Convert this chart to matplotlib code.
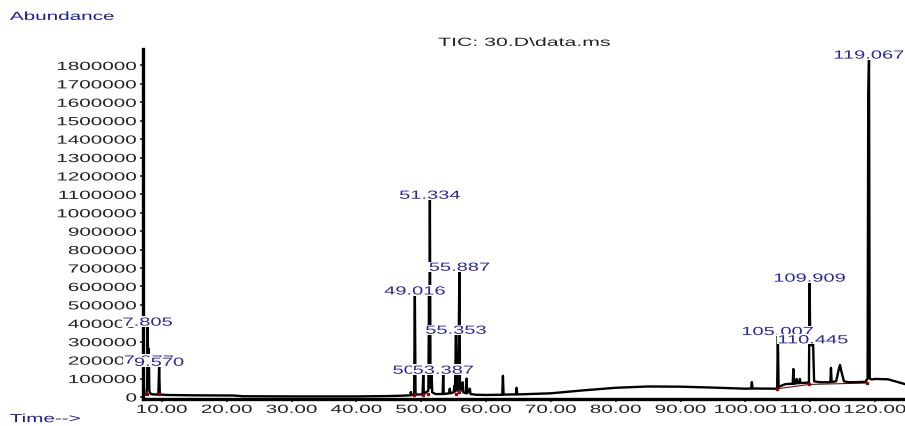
import matplotlib
matplotlib.use("Agg")
import matplotlib.pyplot as plt
from matplotlib.patheffects import AbstractPathEffect
from matplotlib.transforms import Affine2D
from matplotlib.path import Path

# TIC trace (time in min, abundance)
tic_time = [7.08, 7.6, 7.72, 7.805, 7.88, 7.977, 8.06, 8.3, 9.0, 9.45, 9.57, 9.68,
            10.5, 15.0, 21.0, 22.5, 30.0, 40.0, 45.0, 47.0,
            48.3, 48.4, 48.5, 48.9, 49.016, 49.12, 49.3,
            50.2, 50.31, 50.4, 51.1, 51.2, 51.26, 51.334, 51.43, 51.6, 51.7,
            52.2, 53.3, 53.387, 53.47, 54.3, 54.4, 54.5, 55.0, 55.1, 55.2,
            55.353, 55.45, 55.6, 55.7, 55.887, 55.98, 56.3, 56.4, 56.5,
            56.9, 57.0, 57.1, 57.5, 57.6, 58.5, 60.0, 62.5, 62.6, 62.7,
            64.6, 64.7, 64.8, 65.0, 70.0, 75.0, 80.0, 85.0, 90.0, 95.0, 100.0,
            100.9, 101.0, 101.1, 104.8, 104.9, 105.007, 105.12, 106.2,
            107.3, 107.4, 107.5, 107.8, 107.9, 108.0, 108.3, 108.4, 108.5,
            109.8, 109.909, 110.0, 110.2, 110.445, 110.6, 111.5,
            113.1, 113.2, 113.3, 114.0, 114.4, 114.6, 114.8, 115.2, 116.0,
            118.5, 118.85, 118.95, 119.067, 119.18, 119.5, 120.0, 122.0, 124.62]
tic_abund = [12e3, 14e3, 60e3, 386e3, 150e3, 262e3, 30e3, 16e3, 13e3, 14e3, 168e3, 14e3,
             11e3, 9e3, 8e3, 4e3, 3e3, 3e3, 5e3, 7e3,
             9e3, 27e3, 10e3, 12e3, 555e3, 18e3, 13e3,
             14e3, 125e3, 16e3, 35e3, 550e3, 300e3, 1075e3, 50e3, 125e3, 25e3,
             16e3, 16e3, 125e3, 16e3, 20e3, 45e3, 20e3, 25e3, 60e3, 30e3,
             342e3, 35e3, 60e3, 35e3, 684e3, 45e3, 35e3, 80e3, 25e3,
             20e3, 100e3, 20e3, 45e3, 16e3, 12e3, 11e3, 12e3, 115e3, 13e3,
             14e3, 50e3, 14e3, 14e3, 20e3, 36e3, 50e3, 57e3, 56e3, 51e3, 45e3,
             46e3, 81e3, 46e3, 45e3, 47e3, 335e3, 55e3, 70e3,
             72e3, 152e3, 72e3, 74e3, 98e3, 75e3, 75e3, 98e3, 76e3,
             78e3, 625e3, 300e3, 280e3, 290e3, 85e3, 80e3,
             80e3, 158e3, 82e3, 85e3, 150e3, 174e3, 140e3, 85e3, 80e3,
             82e3, 100e3, 1620e3, 1836e3, 100e3, 95e3, 98e3, 96e3, 70e3]

# labelled peaks
peak_rt = [7.805, 7.977, 9.570, 49.016, 50.310, 51.334, 53.387, 55.353, 55.887,
           105.007, 109.909, 110.445, 119.067]
peak_abund = [386e3, 180e3, 168e3, 555e3, 125e3, 1075e3, 125e3, 342e3, 684e3,
              335e3, 625e3, 290e3, 1836e3]

# integration baseline (dark red)
base_time = [104.95, 109.85, 118.8]
base_abund = [45e3, 68e3, 76e3]
mark_time = [7.75, 9.5, 48.9, 50.25, 51.1, 55.3, 55.8, 104.95, 109.85, 118.8]
mark_abund = [14e3, 14e3, 12e3, 13e3, 14e3, 18e3, 26e3, 45e3, 68e3, 76e3]

y_ticks = list(range(0, 1900000, 100000))
x_ticks = list(range(10, 130, 10))


class Wide(AbstractPathEffect):
    # stretch text sideways like the instrument printout, optional white back
    def __init__(self, sx=1.78, align='center', back=False):
        super().__init__()
        self.sx = sx
        self.align = align
        self.back = back

    def draw_path(self, renderer, gc, tpath, affine, rgbFace=None):
        ext = tpath.get_extents()
        if self.align == 'center':
            ref = (ext.x0 + ext.x1) / 2
        elif self.align == 'right':
            ref = ext.x1
        else:
            ref = ext.x0
        tr = Affine2D().translate(-ref, 0).scale(self.sx, 1).translate(ref, 0) + affine
        if self.back:
            p = 0.12 * (ext.y1 - ext.y0)
            box = Path([[ext.x0 - p, ext.y0 - p], [ext.x1 + p, ext.y0 - p],
                        [ext.x1 + p, ext.y1 + p], [ext.x0 - p, ext.y1 + p],
                        [ext.x0 - p, ext.y0 - p]], closed=True)
            gc0 = renderer.new_gc()
            gc0.copy_properties(gc)
            gc0.set_linewidth(0)
            gc0.set_foreground('white')
            renderer.draw_path(gc0, box, tr, (1, 1, 1))
            gc0.restore()
        renderer.draw_path(gc, tpath, tr, rgbFace)


plt.rcParams['font.family'] = ['Liberation Sans', 'DejaVu Sans']
fig = plt.figure(figsize=(9.05, 4.27), dpi=100)
ax = fig.add_axes([0.158, 0.0632, 0.842, 0.820])

ax.plot(base_time, base_abund, color='#6b1010', lw=0.8, zorder=1)
ax.plot(tic_time, tic_abund, color='black', lw=1.7, zorder=2)
ax.plot(mark_time, mark_abund, 's', color='#9b0000', ms=2, zorder=2.2)

lab_color = '#2a2a9a'
for rt, ab in zip(peak_rt, peak_abund):
    ax.annotate('%.3f' % rt, (rt, ab), xytext=(0, -2), textcoords='offset points',
                ha='center', va='bottom', fontsize=8.5, color=lab_color,
                annotation_clip=False, zorder=5,
                path_effects=[Wide(1.7, 'center', back=True)])

ax.set_xlim(7.08, 124.62)
ax.set_ylim(-11000, 1890000)
ax.set_yticks(y_ticks)
ax.set_yticklabels([str(v) for v in y_ticks])
ax.set_xticks(x_ticks)
ax.set_xticklabels(['%.2f' % v for v in x_ticks])
ax.tick_params(axis='both', labelsize=8.5, colors='#222222', length=2.5, width=1.2, pad=2)
ax.tick_params(axis='x', pad=1)
for lab in ax.get_yticklabels():
    lab.set_path_effects([Wide(1.75, 'right')])
for lab in ax.get_xticklabels():
    lab.set_path_effects([Wide(1.75, 'center')])

for s in ['top', 'right']:
    ax.spines[s].set_visible(False)
ax.spines['left'].set_linewidth(2.4)
ax.spines['bottom'].set_linewidth(2.4)

ttl = ax.set_title('TIC: 30.D\\data.ms', fontsize=8.5, color='#222222', pad=0)
ttl.set_path_effects([Wide(1.8, 'center')])

t1 = fig.text(0.011, 0.958, 'Abundance', fontsize=8.5, color='#1c1c9c', va='center')
t1.set_path_effects([Wide(1.75, 'left')])
t2 = fig.text(0.011, 0.016, 'Time-->', fontsize=8.5, color='#1c1c9c', va='center')
t2.set_path_effects([Wide(1.75, 'left')])

fig.savefig('out.png', dpi=100)
